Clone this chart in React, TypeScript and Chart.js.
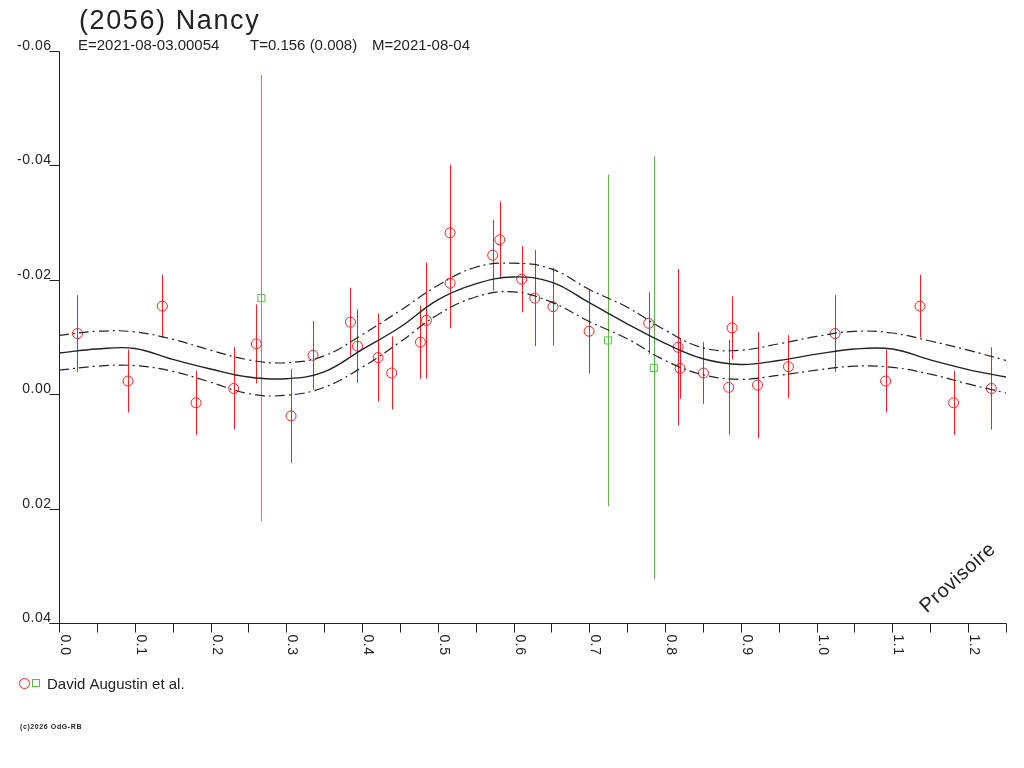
import { useEffect, useRef } from 'react';
import { Chart, registerables } from 'chart.js';

Chart.register(...registerables);

// ---- Data (phase, reduced magnitude, error) ----
const phaseRed = [
  0.0243, 0.0911, 0.1365, 0.1809, 0.2306, 0.2606, 0.3063, 0.3353, 0.3847, 0.394,
  0.4212, 0.4392, 0.4771, 0.485, 0.5162, 0.5162, 0.5725, 0.5818, 0.6108, 0.628,
  0.652, 0.6997, 0.7785, 0.8172, 0.8198, 0.8507, 0.884, 0.8885, 0.922, 0.9629,
  1.0243, 1.0911, 1.1365, 1.1809, 1.2306,
];
const magRed = [
  -0.0106, -0.0023, -0.0154, 0.0015, -0.001, -0.0088, 0.0038, -0.0068, -0.0126, -0.0084,
  -0.0064, -0.0037, -0.0091, -0.0129, -0.0282, -0.0194, -0.0243, -0.027, -0.0201, -0.0168,
  -0.0153, -0.011, -0.0124, -0.0082, -0.0045, -0.0037, -0.0012, -0.0116, -0.0016, -0.0048,
  -0.0106, -0.0023, -0.0154, 0.0015, -0.001,
];
const errRed = [
  0.0067, 0.0055, 0.0055, 0.0056, 0.0072, 0.0069, 0.0082, 0.006, 0.006, 0.0064,
  0.0077, 0.0064, 0.0064, 0.0101, 0.0119, 0.0079, 0.0062, 0.0067, 0.0058, 0.0084,
  0.0068, 0.0074, 0.0054, 0.0137, 0.0053, 0.0054, 0.0083, 0.0055, 0.0093, 0.0055,
  0.0067, 0.0055, 0.0055, 0.0056, 0.0072,
];
const phaseGreen = [0.2672, 0.7248, 0.785];
const magGreen = [-0.0168, -0.0094, -0.0046];
const errGreen = [0.039, 0.029, 0.037];

// ---- Fitted curve and its envelope ----
const fitPhase = [
  0, 0.05, 0.1, 0.15, 0.2, 0.25, 0.3, 0.35, 0.4, 0.45, 0.5, 0.55, 0.6,
  0.65, 0.7, 0.75, 0.8, 0.85, 0.9, 0.95, 1.0, 1.05, 1.1, 1.15, 1.2, 1.25,
];
const fitMag = [
  -0.0072, -0.0079, -0.008, -0.0061, -0.0044, -0.003, -0.0027, -0.0039, -0.0078, -0.0117, -0.0165, -0.0193, -0.0205,
  -0.0196, -0.016, -0.0123, -0.0089, -0.0062, -0.0052, -0.0059, -0.007, -0.0079, -0.0079, -0.006, -0.0043, -0.003,
];
const fitUpper = [
  -0.0103, -0.011, -0.0109, -0.0096, -0.0077, -0.006, -0.0055, -0.0067, -0.0104, -0.0146, -0.019, -0.0222, -0.0229,
  -0.0219, -0.0183, -0.0152, -0.0112, -0.0081, -0.0077, -0.0088, -0.0101, -0.011, -0.0107, -0.0093, -0.0077, -0.0059,
];
const fitLower = [
  -0.0042, -0.0049, -0.005, -0.004, -0.0021, -0.0001, 0.0002, -0.0012, -0.0047, -0.0091, -0.0139, -0.017, -0.0179,
  -0.0161, -0.0127, -0.0097, -0.0059, -0.0034, -0.0026, -0.0033, -0.0042, -0.0049, -0.0047, -0.0035, -0.0018, -0.0002,
];

// ---- Axis ticks ----
const yTicks = [-0.06, -0.04, -0.02, 0, 0.02, 0.04];
const yTickLabels = ['-0.06', '-0.04', '-0.02', '0.00', '0.02', '0.04'];
const xTicks = [0, 0.1, 0.2, 0.3, 0.4, 0.5, 0.6, 0.7, 0.8, 0.9, 1.0, 1.1, 1.2];
const xTickLabels = ['0.0', '0.1', '0.2', '0.3', '0.4', '0.5', '0.6', '0.7', '0.8', '0.9', '1.0', '1.1', '1.2'];
const xMinorTicks = [0.05, 0.15, 0.25, 0.35, 0.45, 0.55, 0.65, 0.75, 0.85, 0.95, 1.05, 1.15, 1.25];

const TITLE = '(2056) Nancy';
const SUB_EPOCH = 'E=2021-08-03.00054';
const SUB_PERIOD = 'T=0.156 (0.008)';
const SUB_MID = 'M=2021-08-04';
const LEGEND = 'David Augustin et al.';
const FOOTER = '(c)2026 OdG-RB';
const WATERMARK = 'Provisoire';

const RED = '#ee2424';
const GREEN = '#5cb84a';
const INK = '#222222';
const FONT = '"Liberation Sans", Arial, sans-serif';

const overlay = {
  id: 'overlay',
  beforeDatasetsDraw(chart: any) {
    const { ctx, scales } = chart;
    const xs = scales.x;
    const ys = scales.y;
    ctx.save();
    ctx.lineWidth = 1;
    const bars = (ph: number[], mg: number[], er: number[], color: string) => {
      ctx.strokeStyle = color;
      for (let i = 0; i < ph.length; i++) {
        const px = Math.round(xs.getPixelForValue(ph[i])) + 0.5;
        ctx.beginPath();
        ctx.moveTo(px, ys.getPixelForValue(mg[i] - er[i]));
        ctx.lineTo(px, ys.getPixelForValue(mg[i] + er[i]));
        ctx.stroke();
      }
    };
    bars(phaseGreen, magGreen, errGreen, GREEN);
    bars(phaseRed, magRed, errRed, RED);
    ctx.restore();
  },
  afterDraw(chart: any) {
    const { ctx, scales, chartArea } = chart;
    const xs = scales.x;
    const ys = scales.y;
    const left = Math.round(chartArea.left) + 0.5;
    const right = Math.round(chartArea.right) + 0.5;
    const top = Math.round(chartArea.top) + 0.5;
    const bottom = Math.round(chartArea.bottom) + 0.5;
    ctx.save();
    ctx.strokeStyle = INK;
    ctx.fillStyle = INK;
    ctx.lineWidth = 1;
    // axes
    ctx.beginPath();
    ctx.moveTo(left, top);
    ctx.lineTo(left, bottom);
    ctx.moveTo(left - 10, bottom);
    ctx.lineTo(right, bottom);
    ctx.stroke();
    // y ticks
    ctx.font = `14px ${FONT}`;
    (ctx as any).letterSpacing = '0.5px';
    ctx.textAlign = 'right';
    ctx.textBaseline = 'alphabetic';
    yTicks.forEach((v, i) => {
      const py = Math.round(ys.getPixelForValue(v)) + 0.5;
      ctx.beginPath();
      ctx.moveTo(left - 10, py);
      ctx.lineTo(left, py);
      ctx.stroke();
      ctx.fillText(yTickLabels[i], left - 8, py - 2);
    });
    // x ticks
    const tick = (v: number) => {
      const px = Math.round(xs.getPixelForValue(v)) + 0.5;
      ctx.beginPath();
      ctx.moveTo(px, bottom);
      ctx.lineTo(px, bottom + 9);
      ctx.stroke();
      return px;
    };
    xMinorTicks.forEach((v) => tick(v));
    ctx.textAlign = 'left';
    xTicks.forEach((v, i) => {
      const px = tick(v);
      ctx.save();
      ctx.translate(px + 1.5, bottom + 11);
      ctx.rotate(Math.PI / 2);
      ctx.fillText(xTickLabels[i], 0, 0);
      ctx.restore();
    });
    // title & subtitle
    ctx.textAlign = 'left';
    ctx.font = `27px ${FONT}`;
    (ctx as any).letterSpacing = '1.6px';
    ctx.fillText(TITLE, 79, 29);
    ctx.font = `15px ${FONT}`;
    (ctx as any).letterSpacing = '0px';
    ctx.fillText(SUB_EPOCH, 78, 50);
    ctx.fillText(SUB_PERIOD, 250, 50);
    ctx.fillText(SUB_MID, 372, 50);
    // legend
    ctx.strokeStyle = RED;
    ctx.beginPath();
    ctx.arc(24.5, 683.5, 5, 0, Math.PI * 2);
    ctx.stroke();
    ctx.strokeStyle = GREEN;
    ctx.strokeRect(32.5, 679.5, 7, 7);
    ctx.fillStyle = INK;
    ctx.font = `15px ${FONT}`;
    ctx.fillText(LEGEND, 47, 688.5);
    // footer
    ctx.font = `bold 7px ${FONT}`;
    (ctx as any).letterSpacing = '0.6px';
    ctx.fillText(FOOTER, 20, 729);
    // watermark
    (ctx as any).letterSpacing = '0.5px';
    ctx.font = `20px ${FONT}`;
    ctx.translate(958, 578);
    ctx.rotate((-42 * Math.PI) / 180);
    ctx.textAlign = 'center';
    ctx.textBaseline = 'middle';
    ctx.fillText(WATERMARK, 0, 0);
    ctx.restore();
  },
};

export default function App() {
  const ref = useRef<HTMLCanvasElement | null>(null);
  useEffect(() => {
    if (!ref.current) return;
    const toPts = (xsArr: number[], ysArr: number[]) => xsArr.map((x, i) => ({ x, y: ysArr[i] }));
    const chart = new Chart(ref.current, {
      type: 'scatter',
      data: {
        datasets: [
          {
            type: 'line',
            data: toPts(fitPhase, fitUpper),
            borderColor: INK,
            borderWidth: 1.2,
            borderDash: [10, 4, 2, 4],
            pointRadius: 0,
            tension: 0.4,
            fill: false,
          } as any,
          {
            type: 'line',
            data: toPts(fitPhase, fitLower),
            borderColor: INK,
            borderWidth: 1.2,
            borderDash: [10, 4, 2, 4],
            pointRadius: 0,
            tension: 0.4,
            fill: false,
          } as any,
          {
            type: 'line',
            data: toPts(fitPhase, fitMag),
            borderColor: INK,
            borderWidth: 1.4,
            pointRadius: 0,
            tension: 0.4,
            fill: false,
          } as any,
          {
            data: toPts(phaseRed, magRed),
            pointStyle: 'circle',
            pointRadius: 5,
            borderColor: RED,
            backgroundColor: 'rgba(0,0,0,0)',
            borderWidth: 1,
            showLine: false,
          } as any,
          {
            data: toPts(phaseGreen, magGreen),
            pointStyle: 'rect',
            pointRadius: 5,
            borderColor: GREEN,
            backgroundColor: 'rgba(0,0,0,0)',
            borderWidth: 1,
            showLine: false,
          } as any,
        ],
      },
      options: {
        responsive: false,
        animation: false,
        events: [],
        layout: { padding: { left: 59, right: 18, top: 51, bottom: 145 } },
        plugins: { legend: { display: false }, tooltip: { enabled: false }, title: { display: false } },
        scales: {
          x: {
            type: 'linear',
            min: 0,
            max: 1.25,
            ticks: { display: false },
            grid: { display: false },
            border: { display: false },
            afterFit: (s: any) => { s.height = 0; },
          },
          y: {
            type: 'linear',
            min: -0.06,
            max: 0.04,
            reverse: true,
            ticks: { display: false },
            grid: { display: false },
            border: { display: false },
            afterFit: (s: any) => { s.width = 0; },
          },
        },
      } as any,
      plugins: [overlay],
    });
    return () => chart.destroy();
  }, []);
  return (
    <div style={{ position: 'absolute', left: 0, top: 0, width: 1024, height: 768, background: '#fff' }}>
      <canvas ref={ref} width={1024} height={768} style={{ width: 1024, height: 768, display: 'block' }} />
    </div>
  );
}
